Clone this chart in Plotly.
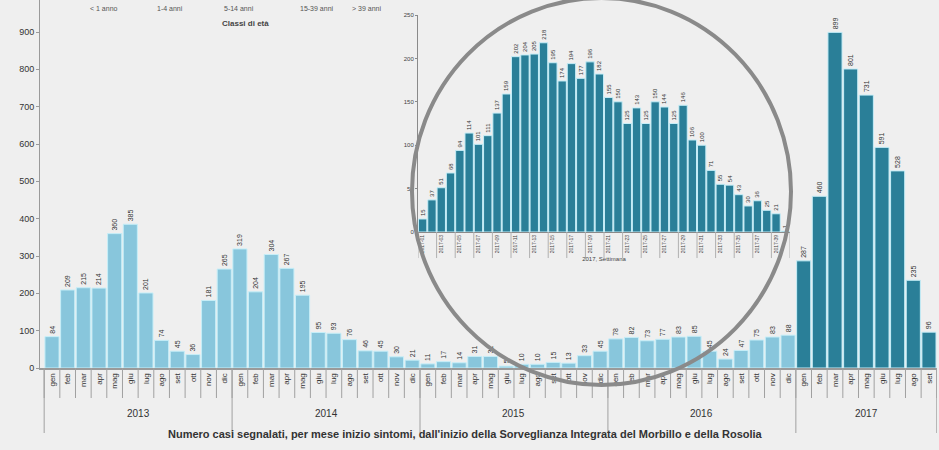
import plotly.graph_objects as go

# ---------------- data ----------------
months = ["gen", "feb", "mar", "apr", "mag", "giu", "lug", "ago", "set", "ott", "nov", "dic"]
years = ["2013", "2014", "2015", "2016", "2017"]
cases_2013 = [84, 209, 215, 214, 360, 385, 201, 74, 45, 36, 181, 265]
cases_2014 = [319, 204, 304, 267, 195, 95, 93, 76, 46, 45, 30, 21]
cases_2015 = [11, 17, 14, 31, 31, 5, 10, 10, 15, 13, 33, 45]
cases_2016 = [78, 82, 73, 77, 83, 85, 45, 24, 47, 75, 83, 88]
cases_2017 = [287, 460, 899, 801, 731, 591, 528, 235, 96]

weekly_2017 = [15, 37, 51, 68, 94, 114, 101, 111, 137, 159,
               202, 204, 205, 218, 195, 174, 194, 177, 196, 182,
               155, 150, 125, 143, 125, 150, 144, 125, 146, 106,
               100, 71, 55, 54, 43, 30, 36, 25, 21, 1]

legend_classes = ["< 1 anno", "1-4 anni", "5-14 anni", "15-39 anni", "> 39 anni"]

# ---------------- build ----------------
series = [cases_2013, cases_2014, cases_2015, cases_2016, cases_2017]
vals, labels, colors = [], [], []
for y, s in zip(years, series):
    for i, v in enumerate(s):
        vals.append(v)
        labels.append(months[i])
        colors.append("#2a7f98" if y == "2017" else "#88c6dc")
xs = list(range(len(vals)))

W, H = 939, 450
L, R, T, B = 40, 2, 0, 82
pw, ph = W - L - R, H - T - B


def px_x(p):
    return (p - L) / pw


def px_y(p):
    return (ph + T - p) / ph


FONT = "Liberation Sans"
fig = go.Figure()

fig.add_trace(go.Bar(
    x=xs, y=vals, marker=dict(color=colors, line=dict(color="#c6eef8", width=1)),
    text=vals, textposition="outside", textangle=-90, constraintext="none",
    textfont=dict(size=7, color="#333333", family=FONT), cliponaxis=False,
    showlegend=False, hoverinfo="x+y"))

wk = list(range(len(weekly_2017)))
fig.add_trace(go.Bar(
    x=wk, y=weekly_2017, xaxis="x2", yaxis="y2",
    marker=dict(color="#2a7f98", line=dict(color="#c6eef8", width=1)),
    text=weekly_2017, textposition="outside", textangle=-90, constraintext="none",
    textfont=dict(size=6, color="#333333", family=FONT), cliponaxis=False,
    showlegend=False))

n = len(vals)
step = 15.66
ymax = 900 * ph / (368 - 32)
x0r = -(52 - L) / step
fig.update_layout(
    width=W, height=H, margin=dict(l=L, r=R, t=T, b=B, autoexpand=False),
    paper_bgcolor="#efefef", plot_bgcolor="#efefef",
    font=dict(family=FONT, color="#333333"),
    bargap=0.1,
    xaxis=dict(range=[x0r, x0r + pw / step], automargin=False,
               tickvals=xs, ticktext=labels, tickangle=-90,
               tickfont=dict(size=8, color="#333333"), showgrid=False, zeroline=False,
               showline=True, linecolor="#9a9a9a", linewidth=2, ticks=""),
    yaxis=dict(range=[0, ymax], tickvals=list(range(0, 1000, 100)), automargin=False,
               tickfont=dict(size=9, color="#333333"), showgrid=False, zeroline=False,
               showline=True, linecolor="#9a9a9a", linewidth=1, ticks="outside",
               ticklen=3, tickcolor="#9a9a9a"),
    xaxis2=dict(domain=[px_x(418), px_x(790)], anchor="y2", range=[-0.5, len(wk) - 0.5],
                automargin=False,
                tickvals=wk[::2], ticktext=["2017-%02d" % (i + 1) for i in wk[::2]],
                tickangle=-90, tickfont=dict(size=5, color="#444444"),
                showgrid=False, zeroline=False, showline=True, linecolor="#8a8a8a",
                linewidth=1, ticks="",
                title=dict(text="2017, Settimana", font=dict(size=6, color="#444444"), standoff=4)),
    yaxis2=dict(domain=[px_y(232), px_y(15)], anchor="x2", range=[0, 250], automargin=False,
                tickvals=[0, 50, 100, 150, 200, 250], tickfont=dict(size=6, color="#444444"),
                showgrid=False, zeroline=False, showline=True, linecolor="#8a8a8a",
                linewidth=1, ticks="outside", ticklen=2, tickcolor="#8a8a8a"),
)

shapes = []
for k in range(n + 1):
    shapes.append(dict(type="line", xref="x", yref="paper", x0=k - 0.5, x1=k - 0.5,
                       y0=0, y1=px_y(398), line=dict(color="#a0a0a0", width=1)))
start = 0
annotations = []
for y, s in zip(years, series):
    end = start + len(s)
    shapes.append(dict(type="line", xref="x", yref="paper", x0=start - 0.5, x1=start - 0.5,
                       y0=0, y1=px_y(433), line=dict(color="#a0a0a0", width=1)))
    annotations.append(dict(x=(start + end - 1) / 2, y=px_y(421), xref="x", yref="paper",
                            text=y, showarrow=False, font=dict(size=10, color="#333333")))
    start = end
shapes.append(dict(type="line", xref="x", yref="paper", x0=n - 0.5, x1=n - 0.5,
                   y0=0, y1=px_y(433), line=dict(color="#a0a0a0", width=1)))
for k in range(0, len(wk) + 1, 2):
    shapes.append(dict(type="line", xref="x2", yref="y2 domain", x0=k - 0.5, x1=k - 0.5,
                       y0=0, y1=-0.12, line=dict(color="#b0b0b0", width=1)))
shapes.append(dict(type="circle", xref="paper", yref="paper",
                   x0=px_x(412), x1=px_x(791), y0=px_y(385), y1=px_y(-2),
                   line=dict(color="#8a8a8a", width=4), layer="above"))

annotations.append(dict(x=px_x(465), xref="paper", y=px_y(442), yref="paper",
                        text="<b>Numero casi segnalati, per mese inizio sintomi, dall'inizio della Sorveglianza Integrata del Morbillo e della Rosolia</b>",
                        showarrow=False, font=dict(size=11, color="#333333")))
leg_x = [88, 155, 222, 298, 366]
for t, xp in zip(legend_classes, leg_x):
    annotations.append(dict(x=px_x(xp), y=px_y(3), xref="paper", yref="paper", text=t,
                            showarrow=False, font=dict(size=7, color="#555555")))
annotations.append(dict(x=px_x(220), y=px_y(17), xref="paper", yref="paper",
                        text="<b>Classi di età</b>", showarrow=False,
                        font=dict(size=8, color="#444444")))

fig.update_layout(shapes=shapes, annotations=annotations)
fig.write_html("out.html", config={"displayModeBar": False},
               post_script="document.body.style.margin='0';document.body.style.background='#efefef';")
